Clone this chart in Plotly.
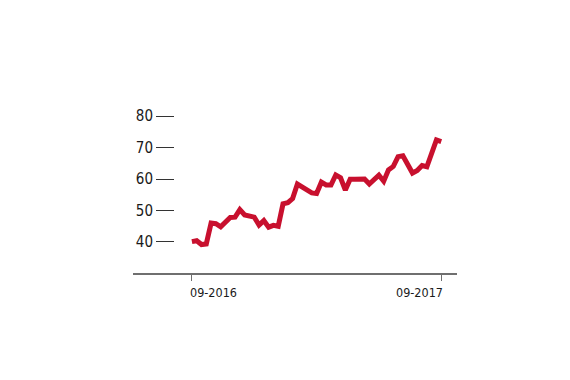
import plotly.graph_objects as go
import pandas as pd

start_date = "2016-09-02"
values = [40.1, 40.4, 39.2, 39.4, 46.0, 45.8, 44.8, 46.5, 47.8, 47.9,
          50.3, 48.6, 48.3, 47.9, 45.4, 46.8, 44.7, 45.3, 45.0, 52.1,
          52.5, 53.8, 58.4, 57.4, 56.2, 55.6, 55.4, 59.0, 58.1, 58.1,
          61.3, 60.4, 56.5, 59.9, 59.9, 60.0, 60.0, 58.4, 59.8, 61.2,
          59.3, 62.9, 64.0, 67.1, 67.4, 64.8, 61.9, 62.7, 64.3, 63.9,
          68.5, 72.4, 71.9]
dates = pd.date_range(start_date, periods=len(values), freq="7D")

y_ticks = [40, 50, 60, 70, 80]
x_tick_dates = ["2016-09-01", "2017-09-01"]
x_tick_labels = ["09-2016", "09-2017"]

font_family = "DejaVu Sans Condensed"

fig = go.Figure()
fig.add_trace(go.Scatter(x=dates, y=values, mode="lines",
                         line=dict(color="#c8102e", width=5),
                         hoverinfo="skip"))

annotations = []
for i, (d, t) in enumerate(zip(x_tick_dates, x_tick_labels)):
    annotations.append(dict(x=d, y=0, xref="x", yref="paper", text=t,
                            showarrow=False, yanchor="top", yshift=-10,
                            xanchor="left" if i == 0 else "right",
                            xshift=-3 if i == 0 else 4,
                            font=dict(family=font_family, size=12.5, color="#1a1a1a")))

fig.update_layout(
    width=570, height=380,
    margin=dict(l=125, r=121, t=92, b=115),
    paper_bgcolor="white", plot_bgcolor="white",
    showlegend=False,
    annotations=annotations,
    xaxis=dict(range=["2016-06-08", "2017-09-24"], showgrid=False, zeroline=False,
               showline=True, linecolor="#6f6f6f", linewidth=1.5,
               ticks="outside", ticklen=6, tickcolor="#6f6f6f", tickwidth=1,
               tickvals=x_tick_dates, showticklabels=False),
    yaxis=dict(range=[30.15, 85.1], showgrid=False, zeroline=False,
               showline=False, anchor="free", position=41/324,
               ticks="outside", ticklen=18, tickcolor="#333", tickwidth=1,
               tickvals=y_ticks, ticktext=[str(v) for v in y_ticks],
               tickfont=dict(family=font_family, size=15, color="#1a1a1a")),
)

fig.write_html("out.html")
